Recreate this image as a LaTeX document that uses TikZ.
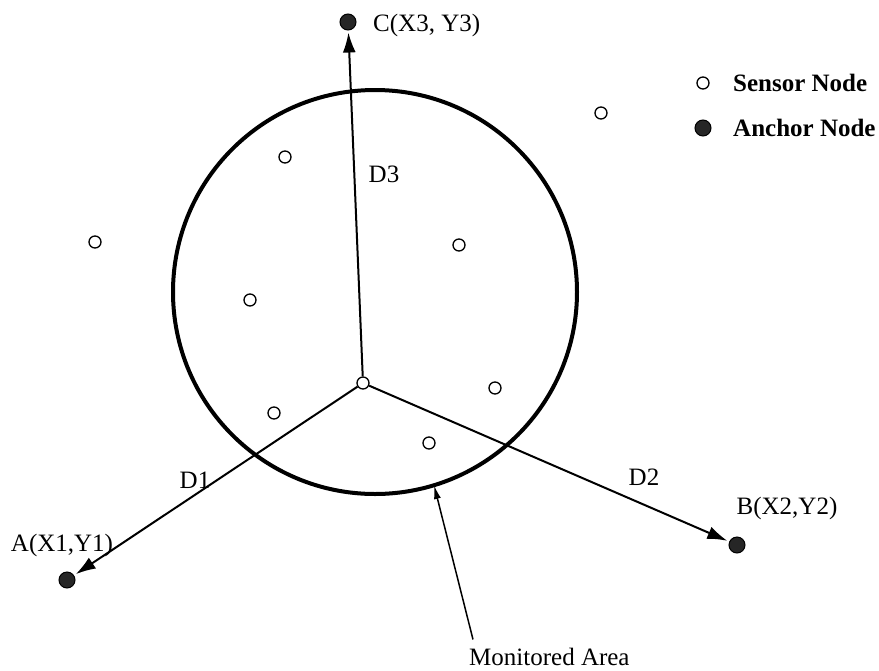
\documentclass[tikz,border=0pt]{standalone}
\usepackage{fontspec}
\setmainfont{Liberation Serif}
\usetikzlibrary{arrows.meta}

\begin{document}
\begin{tikzpicture}[x=1pt,y=-1pt,
	sensor/.style={circle,draw,line width=1.3pt,fill=white,minimum size=12pt,inner sep=0pt},
	anchornode/.style={circle,draw,fill=black!85,line width=1pt,minimum size=16pt,inner sep=0pt},
	dist/.style={line width=2pt,-{Latex[length=20pt,width=13pt]},shorten >=2pt},
	lbl/.style={font=\fontsize{25}{30}\selectfont,inner sep=0pt}]


\useasboundingbox (0,0) rectangle (879,670);


\draw[line width=4pt] (375,292) circle (202);% monitored area

\node[sensor] (O) at (363,383) {};

% sensor nodes
\foreach \p [count=\i] in {(285,157),(459,245),(250,300),(274,413),(495,388),(429,443),(95,242),(601,113)}
	\node[sensor] (s\i) at \p {};

% anchor nodes
\node[anchornode] (C) at (348,22) {};
\node[anchornode] (A) at (67,580) {};
\node[anchornode] (B) at (737,545) {};


\draw[dist] (O) -- (C);
\draw[dist] (O) -- (A);
\draw[dist] (O) -- (B);


\node[lbl,anchor=west] (Clbl) at (373,25) {C(X3, Y3)};
\node[lbl] (Albl) at (62,545) {A(X1,Y1)};
\node[lbl] (Blbl) at (787,508) {B(X2,Y2)};

\node[lbl] (d1) at (195,480) {D1};
\node[lbl] (d2) at (644,477) {D2};
\node[lbl] (d3) at (384,174) {D3};


\node[lbl,anchor=base west] (ma) at (469,665) {Monitored Area};
\coordinate (rim) at (434,485);
\draw[line width=1.5pt,-{Latex[length=14pt,width=7pt]}] ([shift={(4,-8)}]ma.north west) -- (rim);


% key
\node[sensor] (keysensor) at (703,83) {};
\node[anchornode] (keyanchor) at (703,128) {};
\node[lbl,font=\fontsize{25}{30}\selectfont\bfseries,anchor=west] (keysensorlbl) at (733,83) {Sensor Node};
\node[lbl,font=\fontsize{25}{30}\selectfont\bfseries,anchor=west] (keyanchorlbl) at (733,128) {Anchor Node};

\end{tikzpicture}
\end{document}
